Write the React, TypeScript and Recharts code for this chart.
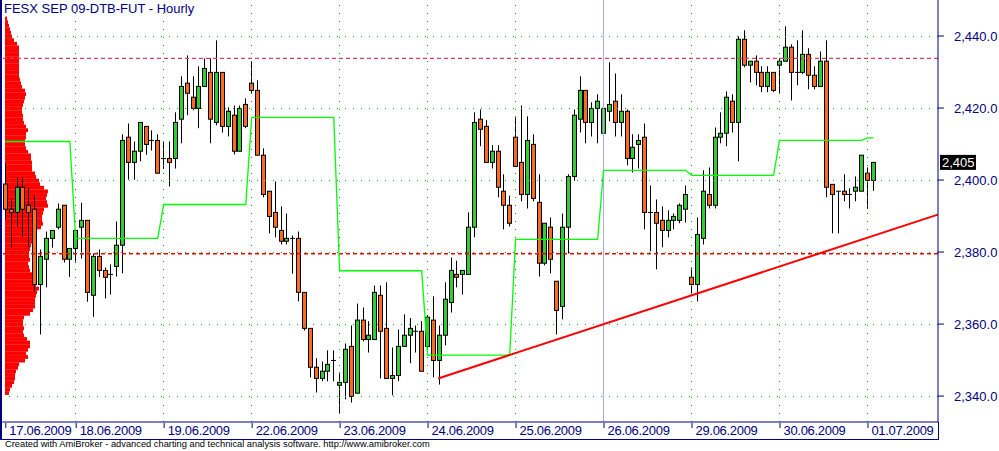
import React from 'react';
import { ComposedChart, BarChart, Bar, Line, XAxis, YAxis, ReferenceLine } from 'recharts';

// hourly FESX bars, 17.06.2009 - 01.07.2009
const opens = [
  2398.9, 2391.9, 2391.0, 2398.0, 2393.0, 2391.9, 2371.0, 2378.0, 2383.8, 2386.9, 2393.0, 2378.0,
  2381.0, 2386.9, 2388.8, 2368.0, 2378.8, 2374.9, 2373.8, 2376.0, 2381.9, 2411.9, 2404.9, 2408.0, 2414.9, 2411.0, 2411.0,
  2406.0, 2406.0, 2406.0, 2416.9, 2426.9, 2423.0, 2419.9, 2426.0, 2429.9, 2416.0, 2429.9, 2414.9, 2418.0, 2408.0, 2421.0,
  2426.9, 2424.9, 2406.9, 2396.9, 2391.0, 2386.0, 2383.0, 2383.8, 2383.8, 2368.8, 2358.8, 2348.0, 2344.9, 2346.9, 2349.9,
  2343.0, 2343.8, 2353.8, 2340.8, 2361.1, 2355.7, 2355.7, 2368.0, 2358.8, 2344.9, 2345.7, 2353.8, 2356.9, 2358.0, 2358.0,
  2353.8, 2361.1, 2349.9, 2356.9, 2366.0, 2373.8, 2373.8, 2373.8, 2386.9, 2416.9, 2414.9, 2404.9, 2408.0, 2396.9, 2393.0,
  2411.9, 2404.9, 2396.0, 2409.9, 2393.8, 2376.9, 2386.9, 2371.9, 2364.9, 2386.9, 2401.0, 2416.9, 2424.9, 2416.0, 2419.9,
  2413.0, 2419.1, 2421.9, 2416.0, 2419.1, 2406.0, 2409.9, 2411.9, 2391.0, 2391.0, 2388.8, 2386.0, 2388.8, 2388.8, 2391.9,
  2373.0, 2371.0, 2383.8, 2396.0, 2393.0, 2411.9, 2413.0, 2421.9, 2416.0, 2439.1, 2431.9, 2433.0, 2429.9, 2426.0, 2429.9,
  2431.9, 2433.0, 2436.9, 2429.9, 2429.9, 2434.9, 2429.1, 2426.0, 2433.0, 2398.8, 2396.9, 2396.9, 2396.0, 2396.9, 2396.9,
  2401.9, 2399.9,
];
const highs = [
  2404.6, 2394.6, 2400.7, 2400.7, 2397.7, 2395.7, 2380.7, 2385.7, 2386.0, 2393.5, 2393.0, 2381.0,
  2386.0, 2393.7, 2388.8, 2379.6, 2380.7, 2375.7, 2376.6, 2388.5, 2412.7, 2415.7, 2410.7, 2416.0, 2414.9, 2413.8, 2412.7,
  2410.7, 2410.7, 2418.8, 2428.8, 2434.6, 2428.8, 2431.6, 2433.8, 2433.8, 2438.8, 2429.9, 2420.2, 2420.7, 2420.7, 2422.7,
  2433.0, 2427.7, 2408.8, 2396.9, 2399.6, 2392.7, 2390.7, 2384.6, 2385.7, 2368.8, 2358.8, 2350.5, 2349.6, 2352.7, 2352.7,
  2346.6, 2354.6, 2359.6, 2365.7, 2364.6, 2360.8, 2370.7, 2370.7, 2371.6, 2353.5, 2358.5, 2362.7, 2361.7, 2359.6, 2360.8,
  2362.5, 2367.7, 2359.6, 2371.6, 2378.5, 2377.6, 2374.9, 2391.0, 2418.8, 2419.6, 2416.6, 2409.7, 2409.7, 2401.6, 2395.7,
  2417.7, 2420.7, 2417.7, 2412.7, 2401.6, 2388.0, 2389.6, 2371.9, 2390.7, 2401.6, 2419.6, 2428.8, 2424.9, 2421.6, 2423.8,
  2420.7, 2432.7, 2429.6, 2423.8, 2419.6, 2412.7, 2412.7, 2415.7, 2398.5, 2394.6, 2392.7, 2391.6, 2390.7, 2393.5, 2398.5,
  2375.7, 2389.6, 2402.7, 2403.5, 2414.6, 2418.8, 2424.6, 2423.8, 2439.9, 2441.6, 2433.0, 2434.6, 2431.6, 2431.6, 2429.9,
  2433.8, 2442.7, 2437.7, 2438.8, 2441.6, 2436.6, 2431.6, 2435.7, 2438.8, 2398.8, 2396.9, 2401.6, 2397.7, 2401.0, 2406.9,
  2403.5, 2404.9,
];
const lows = [
  2389.1, 2381.3, 2387.0, 2384.1, 2381.3, 2369.0, 2357.1, 2370.2, 2381.2, 2386.3, 2377.1, 2373.1,
  2377.0, 2378.2, 2366.2, 2362.0, 2373.1, 2367.1, 2368.2, 2373.2, 2374.1, 2400.1, 2400.1, 2405.2, 2407.0, 2408.2, 2401.9,
  2403.1, 2398.2, 2403.2, 2410.2, 2418.0, 2419.4, 2414.4, 2426.0, 2410.2, 2415.2, 2413.2, 2412.1, 2407.1, 2408.0, 2414.4,
  2424.1, 2406.9, 2395.2, 2385.2, 2384.1, 2382.1, 2382.1, 2374.0, 2366.3, 2358.2, 2345.2, 2341.0, 2344.1, 2344.1, 2344.1,
  2335.2, 2339.1, 2338.2, 2340.8, 2355.2, 2352.1, 2355.7, 2344.9, 2344.9, 2340.2, 2344.1, 2353.8, 2349.1, 2352.1, 2346.9,
  2353.0, 2345.2, 2343.2, 2354.1, 2363.2, 2370.2, 2368.2, 2373.8, 2384.1, 2409.4, 2404.9, 2403.2, 2395.2, 2386.3, 2387.1,
  2403.8, 2394.1, 2392.1, 2394.1, 2373.2, 2376.3, 2374.1, 2357.1, 2361.3, 2379.6, 2399.8, 2413.2, 2410.2, 2412.1, 2410.2,
  2413.0, 2416.3, 2412.1, 2412.1, 2404.1, 2402.1, 2403.2, 2386.3, 2380.2, 2375.2, 2381.3, 2384.1, 2386.3, 2388.0, 2388.2,
  2368.2, 2366.3, 2382.1, 2392.1, 2392.1, 2410.2, 2409.4, 2413.2, 2405.2, 2431.3, 2427.1, 2426.3, 2424.4, 2424.4, 2424.4,
  2424.1, 2433.0, 2422.1, 2426.3, 2429.4, 2425.2, 2425.2, 2426.0, 2395.2, 2385.2, 2385.2, 2394.1, 2392.1, 2394.1, 2396.9,
  2392.0, 2397.0,
];
const closes = [
  2391.9, 2391.0, 2398.0, 2391.9, 2391.0, 2371.0, 2378.8, 2383.8, 2386.0, 2391.9, 2378.0, 2381.0,
  2386.0, 2388.8, 2368.8, 2378.8, 2374.9, 2373.0, 2373.8, 2381.9, 2411.0, 2404.9, 2408.0, 2416.0, 2409.9, 2411.0, 2401.9,
  2406.0, 2404.9, 2416.0, 2426.0, 2424.1, 2419.9, 2426.0, 2431.0, 2416.9, 2429.9, 2414.9, 2419.1, 2408.0, 2419.9, 2414.9,
  2424.9, 2406.9, 2396.0, 2389.9, 2386.9, 2383.0, 2383.8, 2383.8, 2368.8, 2358.8, 2348.0, 2344.9, 2346.9, 2348.8, 2349.9,
  2343.8, 2353.0, 2339.9, 2361.1, 2355.7, 2356.9, 2368.8, 2358.0, 2344.9, 2345.7, 2353.8, 2356.9, 2358.8, 2358.0, 2346.9,
  2361.9, 2349.9, 2356.9, 2366.9, 2374.9, 2373.0, 2374.9, 2386.9, 2416.0, 2414.1, 2404.9, 2408.0, 2398.0, 2393.0, 2388.0,
  2403.8, 2396.0, 2411.0, 2394.9, 2376.9, 2388.0, 2378.0, 2363.8, 2386.9, 2401.0, 2418.0, 2424.9, 2416.0, 2419.9, 2421.9,
  2419.9, 2421.0, 2416.0, 2419.1, 2406.0, 2409.1, 2411.0, 2391.0, 2391.0, 2388.0, 2386.0, 2388.8, 2389.9, 2393.0, 2396.0,
  2371.0, 2384.9, 2396.9, 2393.0, 2411.9, 2413.0, 2423.0, 2416.0, 2439.1, 2431.9, 2433.0, 2429.9, 2426.0, 2429.9, 2424.9,
  2433.0, 2436.9, 2429.9, 2429.9, 2434.9, 2429.1, 2426.0, 2433.0, 2398.0, 2396.0, 2396.9, 2396.0, 2396.0, 2398.0, 2406.9,
  2399.9, 2404.9,
];

const dayLabels = [
  '17.06.2009', '18.06.2009', '19.06.2009', '22.06.2009', '23.06.2009', '24.06.2009',
  '25.06.2009', '26.06.2009', '29.06.2009', '30.06.2009', '01.07.2009',
];
const dayStarts = [0, 12, 27, 42, 57, 72, 87, 102, 117, 132, 147];
// green step line, one level per day
const dayLevels = [2410.7, 2383.8, 2393.2, 2417.4, 2374.8, 2351.4, 2383.5, 2402.7, 2401.3, 2411.0, 2411.7];

// volume-at-price profile on the left
const profilePrices = [
  2442, 2441, 2440, 2439, 2438, 2437, 2436, 2435, 2434, 2433,
  2432, 2431, 2430, 2429, 2428, 2427, 2426, 2425, 2424, 2423,
  2422, 2421, 2420, 2419, 2418, 2417, 2416, 2415, 2414, 2413,
  2412, 2411, 2410, 2409, 2408, 2407, 2406, 2405, 2404, 2403,
  2402, 2401, 2400, 2399, 2398, 2397, 2396, 2395, 2394, 2393,
  2392, 2391, 2390, 2389, 2388, 2387, 2386, 2385, 2384, 2383,
  2382, 2381, 2380, 2379, 2378, 2377, 2376, 2375, 2374, 2373,
  2372, 2371, 2370, 2369, 2368, 2367, 2366, 2365, 2364, 2363,
  2362, 2361, 2360, 2359, 2358, 2357, 2356, 2355, 2354, 2353,
  2352, 2351, 2350, 2349, 2348, 2347, 2346, 2345, 2344, 2343,
  2342, 2341, 2340, 2339, 2338,
];
const profileVolumes = [
  4, 5, 7, 9, 10, 10, 11, 13, 14, 20,
  23, 21, 23, 25, 25, 22, 19, 18, 19, 18,
  18, 19, 25, 28, 30, 30, 30, 31, 32, 34,
  31, 32, 31, 29, 25, 24, 23, 25, 24, 24,
  25, 26, 27, 29, 31, 32, 36, 38, 37, 37,
  38, 39, 43, 42, 41, 42, 43, 39, 35, 34,
  31, 30, 27, 27, 27, 26, 26, 23, 21, 20,
  20, 21, 21, 23, 21, 19, 18, 18, 17, 17,
  18, 19, 20, 21, 20, 17, 16, 15, 14, 14,
  14, 14, 14, 14, 14, 14, 14, 12, 9, 7,
  6, 5, 4, 3, 2,
];

const yTicks = [2340, 2360, 2380, 2400, 2420, 2440];
const upperLevel = 2433.8;
const lowerLevel = 2379.5;
const trendStart = { bar: 73.8, price: 2344.9 };
const trendEnd = { bar: 159.0, price: 2390.4 };
const cursorBar = 102;

const Y_DOMAIN: [number, number] = [2332.8, 2450];
const X_DOMAIN: [number, number] = [-0.5, 159.03];
const NAVY = '#000080';
const FONT = '"Liberation Sans", Arial, sans-serif';
const GRID = '#00b400';

const dayOf = (i: number) => {
  let k = 0;
  dayStarts.forEach((s, j) => { if (s <= i) k = j; });
  return k;
};

const rows = opens.map((o, i) => ({
  i,
  o,
  h: highs[i],
  l: lows[i],
  c: closes[i],
  range: [lows[i], highs[i]],
  poc: dayLevels[dayOf(i)],
}));

const profileRows = profilePrices.map((price, k) => ({ price, vol: profileVolumes[k] }));

// solid profile rows, no gaps between bins
const ProfileBar = (props: any) => {
  const { x, y, width, height } = props;
  if (x == null || !width) return null;
  const cy = y + height / 2;
  return <rect x={x} y={cy - 1.9} width={width} height={3.8} fill="#ff0000" />;
};

const Candle = (props: any) => {
  const { x, y, width, height, payload } = props;
  if (x == null || !payload) return null;
  const { o, h, l, c } = payload;
  const cx = Math.round(x + width / 2);
  const px = (v: number) => y + ((h - v) / (h - l)) * height;
  const top = px(Math.max(o, c));
  const bot = px(Math.min(o, c));
  return (
    <g>
      <line x1={cx + 0.5} x2={cx + 0.5} y1={y} y2={y + height} stroke="#000" />
      {c === o ? (
        <line x1={cx - 2} x2={cx + 3} y1={top} y2={top} stroke="#000" />
      ) : (
        <rect x={cx - 1.5} y={top} width={4} height={Math.max(bot - top, 1)}
          fill={c > o ? '#33cc33' : '#ff6a21'} stroke="#000" />
      )}
    </g>
  );
};

const DateTick = (props: any) => {
  const { x, y, payload } = props;
  const k = dayStarts.indexOf(payload.value);
  return (
    <g>
      <line x1={x + 0.5} x2={x + 0.5} y1={y + 1} y2={y + 6} stroke={NAVY} />
      <text x={x + 4} y={y + 13} fill={NAVY} fontSize={13} fontFamily={FONT} letterSpacing={-0.3}>
        {dayLabels[k]}
      </text>
    </g>
  );
};

const LastPrice = (props: any) => {
  const vb = props.viewBox;
  if (!vb) return null;
  const x = vb.x + vb.width + 2;
  return (
    <g>
      <rect x={x} y={vb.y - 7.5} width={36} height={15} fill="#000" />
      <text x={x + 2} y={vb.y + 5} fill="#fff" fontSize={13} fontFamily={FONT}>
        {closes[closes.length - 1].toLocaleString('en-US', { maximumFractionDigits: 0 })}
      </text>
    </g>
  );
};

export default function App() {
  return (
    <div style={{ position: 'absolute', left: 0, top: 0, width: 999, height: 451, background: '#fff', overflow: 'hidden', fontFamily: FONT }}>
      <div style={{ position: 'absolute', left: 0, top: 0 }}>
        <BarChart width={999} height={451} data={profileRows} layout="vertical"
          margin={{ top: 0, right: 61, bottom: 29, left: 5 }} barCategoryGap={0}>
          <XAxis type="number" domain={[0, 933]} hide />
          <YAxis type="number" dataKey="price" domain={Y_DOMAIN} allowDataOverflow hide />
          <Bar dataKey="vol" fill="#ff0000" barSize={4} shape={<ProfileBar />} isAnimationActive={false} />
        </BarChart>
      </div>
      <div style={{ position: 'absolute', left: 0, top: 0 }}>
        <ComposedChart width={999} height={451} data={rows}
          margin={{ top: 0, right: 0, bottom: 12, left: 2.37 }}>
          <XAxis type="number" dataKey="i" domain={X_DOMAIN} allowDataOverflow ticks={dayStarts}
            interval={0} height={17} tickSize={0} tickMargin={0} tickLine={false}
            axisLine={{ stroke: NAVY }} tick={<DateTick />} />
          <YAxis orientation="right" domain={Y_DOMAIN} allowDataOverflow ticks={yTicks} width={61}
            tickSize={6} tickMargin={10} axisLine={{ stroke: NAVY }} tickLine={{ stroke: NAVY }}
            tick={{ fill: NAVY, fontSize: 13, fontFamily: FONT }}
            tickFormatter={(v: number) => v.toLocaleString('en-US', { minimumFractionDigits: 1 })} />
          {yTicks.map((v) => (
            <ReferenceLine key={'h' + v} y={v} stroke={GRID} strokeDasharray="1 7" shapeRendering="crispEdges" />
          ))}
          {dayStarts.slice(1).filter((d) => d !== cursorBar).map((d) => (
            <ReferenceLine key={'v' + d} x={d} stroke={GRID} strokeDasharray="1 7" shapeRendering="crispEdges" />
          ))}
          <ReferenceLine x={cursorBar} stroke="#aaaaee" shapeRendering="crispEdges" />
          <ReferenceLine y={upperLevel} stroke="#e03c64" strokeDasharray="4 3" strokeWidth={1.2} />
          <ReferenceLine y={lowerLevel} stroke="#ff0000" strokeDasharray="4 3" strokeWidth={1.5} />
          <Bar dataKey="range" barSize={5} shape={<Candle />} isAnimationActive={false} />
          <Line dataKey="poc" type="linear" stroke="#00ff00" strokeWidth={1.3} dot={false} isAnimationActive={false} />
          <ReferenceLine segment={[{ x: trendStart.bar, y: trendStart.price }, { x: trendEnd.bar, y: trendEnd.price }]}
            stroke="#ff0000" strokeWidth={2} ifOverflow="visible" />
          <ReferenceLine y={closes[closes.length - 1]} stroke="none" label={<LastPrice />} />
        </ComposedChart>
      </div>
      <div style={{ position: 'absolute', left: 0, top: 0, width: 2, height: 440, background: NAVY }} />
      <div style={{ position: 'absolute', left: 0, top: 439, width: 939, height: 1, background: NAVY }} />
      <div style={{ position: 'absolute', left: 938, top: 422, width: 1, height: 18, background: NAVY }} />
      <div style={{ position: 'absolute', left: 4, top: 1, fontSize: 13, lineHeight: '15px', color: NAVY, whiteSpace: 'nowrap' }}>
        FESX SEP 09-DTB-FUT - Hourly
      </div>
      <div style={{ position: 'absolute', left: 5, top: 438, fontSize: 9.3, lineHeight: '12px', color: '#000', whiteSpace: 'nowrap' }}>
        Created with AmiBroker - advanced charting and technical analysis software. http://www.amibroker.com
      </div>
    </div>
  );
}
